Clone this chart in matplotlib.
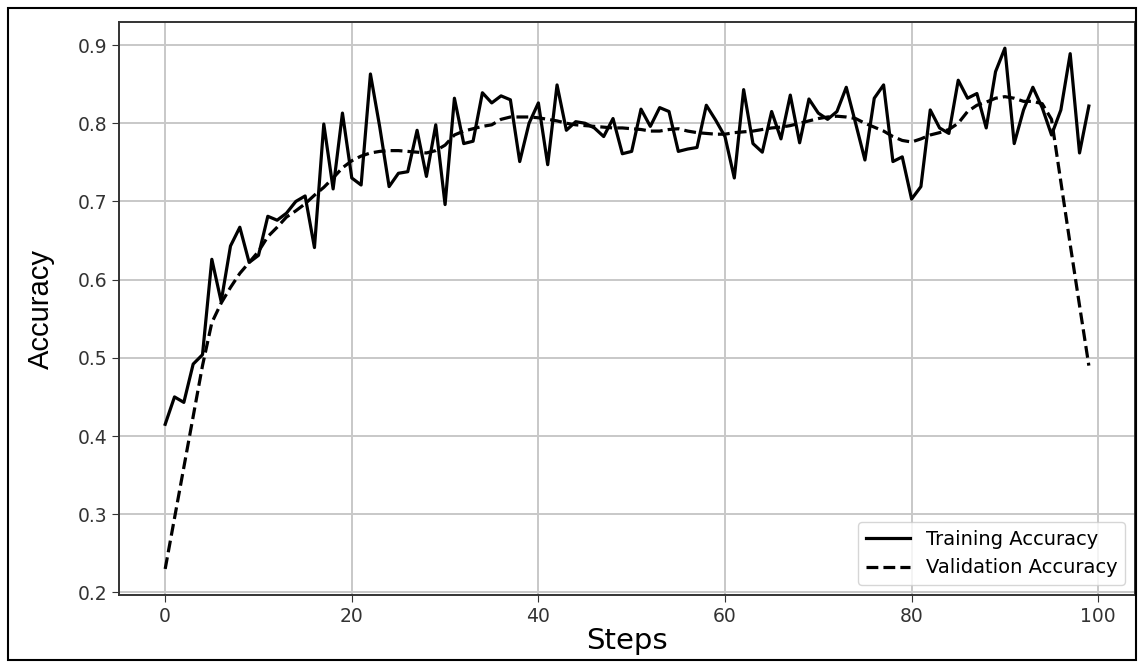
import matplotlib.pyplot as plt
from matplotlib.patches import Rectangle
import numpy as np

steps = np.arange(100)

train_acc = [
    0.415, 0.450, 0.443, 0.492, 0.504, 0.626, 0.572, 0.643, 0.667, 0.622,
    0.631, 0.681, 0.676, 0.685, 0.700, 0.707, 0.641, 0.799, 0.716, 0.813,
    0.730, 0.721, 0.863, 0.795, 0.719, 0.736, 0.738, 0.791, 0.732, 0.798,
    0.696, 0.832, 0.774, 0.777, 0.839, 0.826, 0.835, 0.830, 0.751, 0.800,
    0.826, 0.747, 0.849, 0.791, 0.802, 0.800, 0.794, 0.783, 0.806, 0.761,
    0.764, 0.818, 0.796, 0.820, 0.815, 0.764, 0.767, 0.769, 0.823, 0.804,
    0.783, 0.730, 0.843, 0.774, 0.763, 0.815, 0.780, 0.836, 0.775, 0.831,
    0.813, 0.805, 0.815, 0.846, 0.800, 0.753, 0.832, 0.849, 0.751, 0.757,
    0.703, 0.719, 0.817, 0.794, 0.787, 0.855, 0.832, 0.838, 0.794, 0.866,
    0.896, 0.774, 0.817, 0.846, 0.820, 0.785, 0.817, 0.889, 0.762, 0.822,
]

val_acc = [
    0.230, 0.295, 0.360, 0.425, 0.490, 0.545, 0.570, 0.590, 0.608, 0.622,
    0.636, 0.655, 0.667, 0.680, 0.688, 0.697, 0.708, 0.718, 0.730, 0.743,
    0.752, 0.758, 0.762, 0.764, 0.765, 0.765, 0.764, 0.763, 0.762, 0.765,
    0.772, 0.785, 0.790, 0.793, 0.796, 0.798, 0.805, 0.808, 0.808, 0.808,
    0.807, 0.805, 0.803, 0.800, 0.798, 0.797, 0.796, 0.795, 0.794, 0.794,
    0.793, 0.792, 0.790, 0.790, 0.792, 0.793, 0.790, 0.788, 0.787, 0.786,
    0.786, 0.788, 0.789, 0.790, 0.792, 0.794, 0.795, 0.797, 0.800, 0.803,
    0.806, 0.808, 0.809, 0.808, 0.806, 0.800, 0.795, 0.790, 0.783, 0.778,
    0.776, 0.780, 0.785, 0.788, 0.792, 0.800, 0.815, 0.823, 0.827, 0.832,
    0.834, 0.832, 0.828, 0.828, 0.825, 0.805, 0.725, 0.645, 0.567, 0.490,
]

fig = plt.figure(figsize=(11.42, 6.63), dpi=100)
ax = fig.add_axes([0.1042, 0.1026, 0.8897, 0.864])

ax.plot(steps, train_acc, color='black', linewidth=2.3, label='Training Accuracy')
ax.plot(steps, val_acc, color='black', linewidth=2.3, linestyle='--', label='Validation Accuracy')

ax.grid(True, color='#c8c8c8', linewidth=1.4)
ax.set_xticks([0, 20, 40, 60, 80, 100])
ax.set_yticks([0.2, 0.3, 0.4, 0.5, 0.6, 0.7, 0.8, 0.9])
ax.tick_params(labelsize=13.5, colors='#333333', length=5)
for sp in ax.spines.values():
    sp.set_linewidth(1.4)
    sp.set_color('#333333')

ax.set_xlabel('Steps', fontsize=21, labelpad=1)
ax.set_ylabel('Accuracy', fontsize=21, family='Liberation Sans', labelpad=16)
ax.legend(loc='lower right', fontsize=14, frameon=True, handlelength=2.3)

# outer frame round the whole picture
fig.patches.append(Rectangle((0.007, 0.004), 0.988, 0.984, transform=fig.transFigure,
                             fill=False, edgecolor='black', linewidth=1.5))

plt.savefig('out.png', dpi=100)
